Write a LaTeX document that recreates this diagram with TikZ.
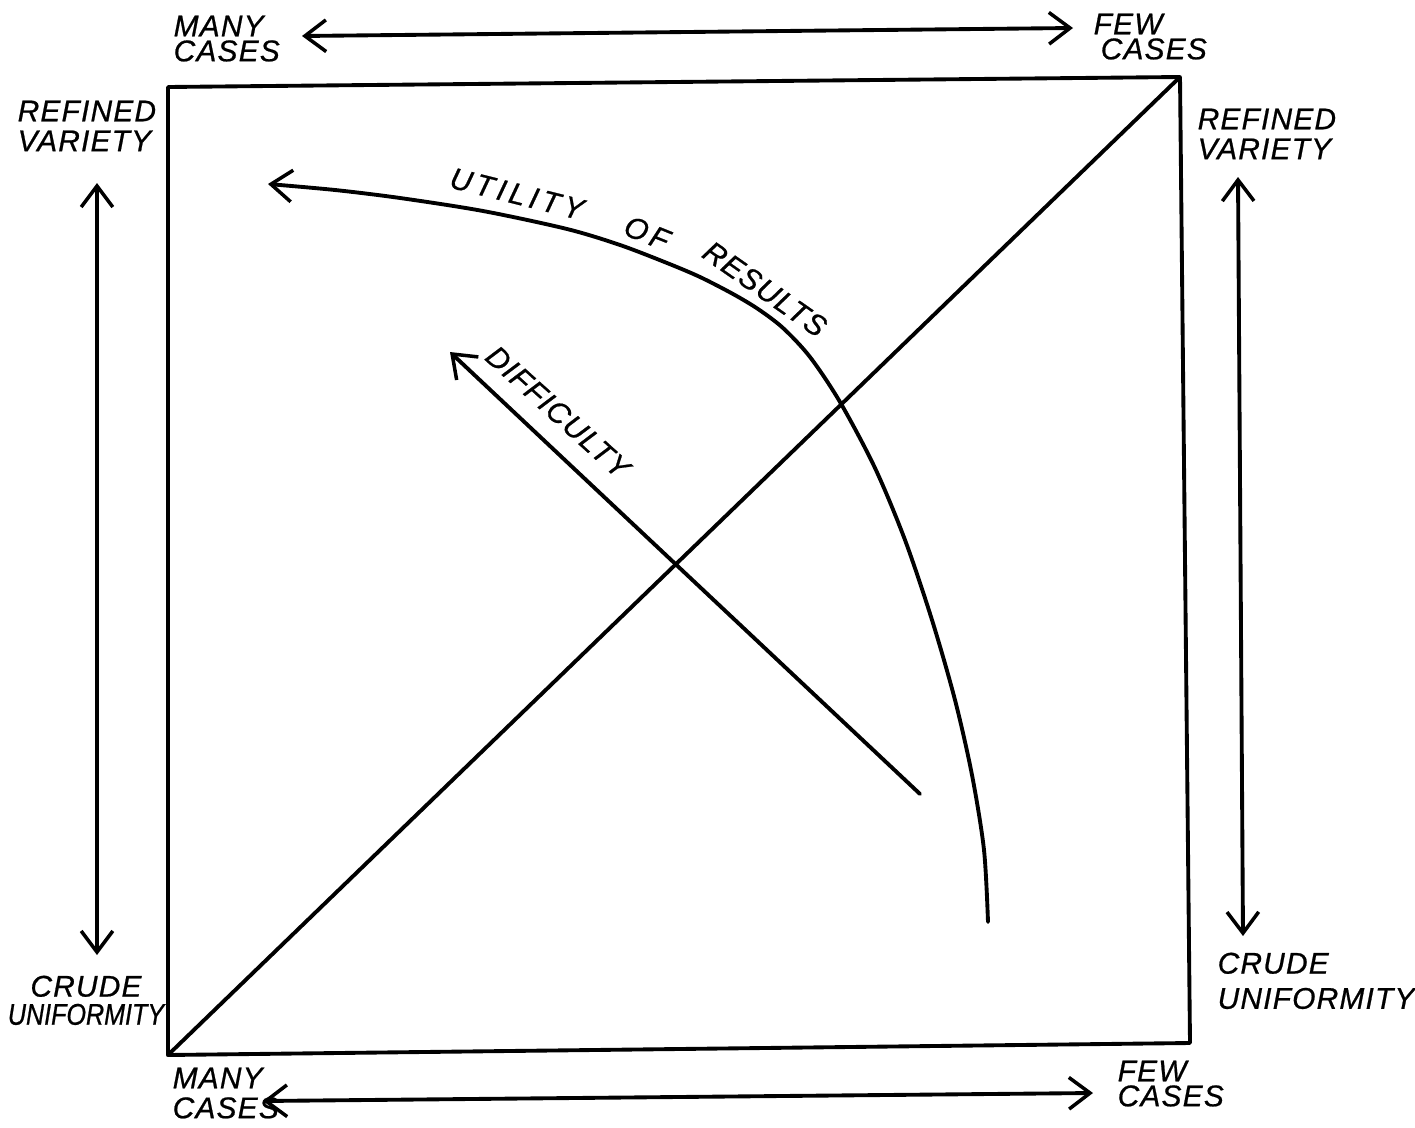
\documentclass[tikz,border=0pt]{standalone}
\usepackage{fontspec}
\usetikzlibrary{arrows.meta}
\newfontfamily\hand[LetterSpace=4,FakeBold=0.7]{Liberation Sans}
\newfontfamily\handwide[LetterSpace=14,FakeBold=0.7]{Liberation Sans}
\newfontfamily\handnarrow[FakeStretch=0.84,FakeBold=0.7]{Liberation Sans}
\begin{document}
\begin{tikzpicture}[x=0.01cm,y=-0.01cm,
  line/.style={line width=1.1pt, line cap=round, line join=round},
  tip/.tip={Straight Barb[length=6pt,width=9pt,line width=1pt]},
  arr/.style={line, -tip},
  darr/.style={line, tip-tip},
  lab/.style={font=\hand\itshape\fontsize{8.5}{8.5}\selectfont, inner sep=0pt, align=left, anchor=north west},
  curvelab/.style={font=\hand\itshape\fontsize{8.5}{8.5}\selectfont, inner sep=0pt}]
\useasboundingbox (0,0) rectangle (1415,1127);
\fill[white] (0,0) rectangle (1415,1127);

% square and diagonal
\coordinate (TL) at (168,87);
\coordinate (TR) at (1180,77);
\coordinate (BR) at (1190,1043);
\coordinate (BL) at (168,1055);
\draw[line] (TL) -- (TR) -- (BR) -- (BL) -- cycle;
\draw[line] (BL) -- (TR);

% axis arrows
\coordinate (ta1) at (302,36);
\coordinate (ta2) at (1073,28);
\draw[darr] (ta1) -- (ta2);
\coordinate (ba1) at (263,1101);
\coordinate (ba2) at (1093,1093);
\draw[darr] (ba1) -- (ba2);
\coordinate (la1) at (97,183);
\coordinate (la2) at (97,955);
\draw[darr] (la1) -- (la2);
\coordinate (ra1) at (1238,177);
\coordinate (ra2) at (1243,936);
\draw[darr] (ra1) -- (ra2);

% axis labels
\node[lab] (tmany) at (173,15) {MANY\\[-1.4pt]CASES};
\node[lab] (tfew) at (1093,13) {FEW\\[-1.4pt]\hspace*{2pt}CASES};
\node[lab] (lref) at (17,100) {REFINED\\VARIETY};
\node[lab, align=center, anchor=north] (lcru) at (86,975)
  {CRUDE\\[-0.5pt]{\handnarrow\itshape UNIFORMITY}};
\node[lab] (rref) at (1197,108) {REFINED\\VARIETY};
\node[lab] (rcru) at (1217,952) {CRUDE\\[1.5pt]UNIFORMITY};
\node[lab] (bmany) at (172,1067) {MANY\\CASES};
\node[lab] (bfew) at (1117,1060) {FEW\\[-1.4pt]CASES};

% utility curve
\coordinate (u0) at (988,922);
\coordinate (u1) at (268,184);
\draw[arr] plot[smooth, tension=0.5] coordinates {(u0) (984,850) (972,775) (955,700) (932,620) (905,540) (875,468) (840,402) (810,357) (783,328) (758,309) (733,294) (700,277) (667,263) (620,245) (567,229) (483,211) (400,198) (335,190) (u1)};
\node[curvelab, rotate=-14, font=\handwide\itshape\fontsize{8.5}{8.5}\selectfont] (util) at (517,194) {UTILITY};
\node[curvelab, rotate=-22, font=\handwide\itshape\fontsize{8.5}{8.5}\selectfont] (of) at (647,233) {OF};
\node[curvelab, rotate=-35] (res) at (765,289) {RESULTS};

% difficulty arrow
\coordinate (d0) at (920,794);
\coordinate (d1) at (450,352);
\draw[arr] (d0) -- (d1);
\node[curvelab, rotate=-42] (diff) at (558,412) {DIFFICULTY};
\end{tikzpicture}
\end{document}
